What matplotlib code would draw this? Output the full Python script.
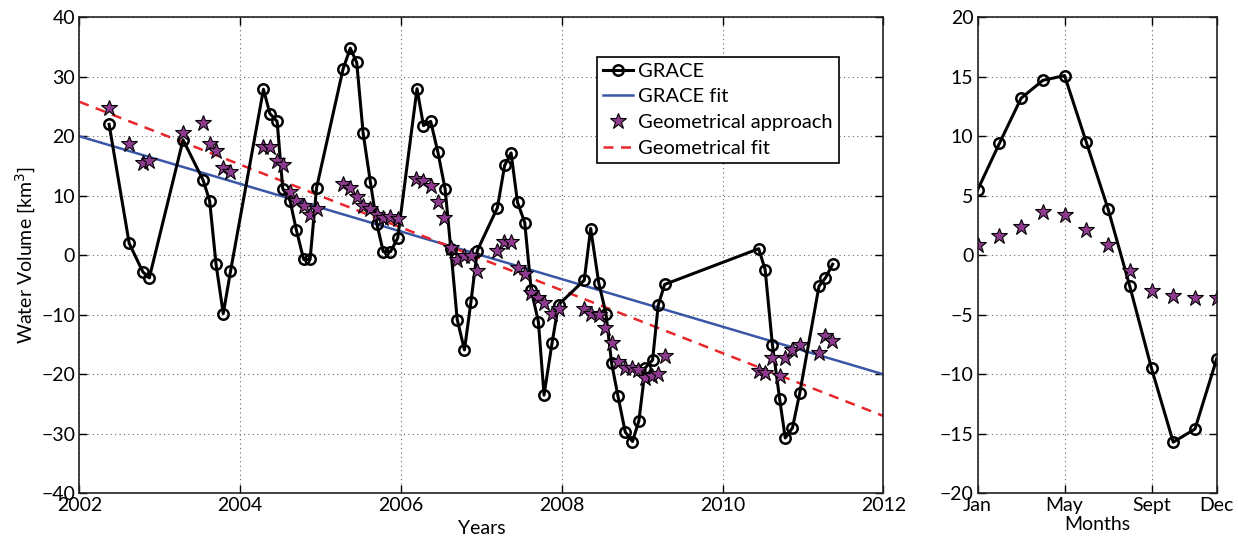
import matplotlib
matplotlib.use("Agg")
import matplotlib.pyplot as plt

plt.rcParams["font.family"] = ["Lato", "DejaVu Sans"]
plt.rcParams["font.size"] = 14
plt.rcParams["axes.unicode_minus"] = True

# --- monthly series ---
grace_t = [2002.37, 2002.62, 2002.79, 2002.87, 2003.29, 2003.54, 2003.62, 2003.70, 2003.79, 2003.88,
           2004.29, 2004.37, 2004.46, 2004.53, 2004.62, 2004.70, 2004.79, 2004.87, 2004.95,
           2005.28, 2005.37, 2005.45, 2005.53, 2005.62, 2005.70, 2005.78, 2005.87, 2005.96,
           2006.20, 2006.28, 2006.37, 2006.46, 2006.55, 2006.62, 2006.70, 2006.79, 2006.87, 2006.95,
           2007.20, 2007.29, 2007.37, 2007.45, 2007.54, 2007.62, 2007.71, 2007.78, 2007.88, 2007.96,
           2008.28, 2008.36, 2008.46, 2008.55, 2008.62, 2008.70, 2008.79, 2008.88, 2008.96,
           2009.04, 2009.13, 2009.20, 2009.28,
           2010.45, 2010.53, 2010.62, 2010.71, 2010.78, 2010.87, 2010.96,
           2011.20, 2011.28, 2011.37]
grace_v = [22.0, 2.0, -2.8, -3.8, 19.4, 12.6, 9.2, -1.5, -9.8, -2.7,
           27.9, 23.8, 22.5, 11.2, 9.2, 4.2, -0.7, -0.7, 11.3,
           31.3, 34.8, 32.4, 20.5, 12.3, 5.3, 0.6, 0.6, 2.9,
           28.0, 21.8, 22.5, 17.3, 11.1, 1.1, -10.8, -15.9, -7.9, 0.8,
           8.0, 15.1, 17.2, 8.9, 5.5, -5.8, -11.2, -23.5, -14.7, -8.3,
           -4.2, 4.5, -4.6, -9.8, -18.1, -23.7, -29.7, -31.3, -27.8,
           -18.9, -17.6, -8.4, -4.9,
           1.1, -2.4, -15.0, -24.1, -30.7, -29.0, -23.2,
           -5.2, -3.8, -1.5]

geom_t = [2002.37, 2002.62, 2002.79, 2002.87, 2003.29, 2003.54, 2003.62, 2003.70, 2003.79, 2003.88,
          2004.29, 2004.37, 2004.46, 2004.53, 2004.62, 2004.70, 2004.79, 2004.87, 2004.95,
          2005.28, 2005.37, 2005.45, 2005.53, 2005.62, 2005.70, 2005.78, 2005.87, 2005.96,
          2006.19, 2006.28, 2006.37, 2006.46, 2006.53, 2006.62, 2006.70, 2006.79, 2006.87, 2006.95,
          2007.20, 2007.28, 2007.37, 2007.45, 2007.54, 2007.62, 2007.70, 2007.78, 2007.88, 2007.96,
          2008.28, 2008.36, 2008.46, 2008.54, 2008.62, 2008.70, 2008.79, 2008.87, 2008.95,
          2009.03, 2009.12, 2009.20, 2009.28,
          2010.45, 2010.53, 2010.62, 2010.71, 2010.78, 2010.87, 2010.96,
          2011.20, 2011.28, 2011.36]
geom_v = [24.8, 18.7, 15.5, 15.8, 20.5, 22.3, 18.7, 17.5, 14.6, 14.0,
          18.2, 18.2, 15.8, 15.1, 10.6, 9.2, 8.3, 6.7, 7.7,
          11.9, 11.3, 9.8, 8.3, 7.7, 6.7, 6.3, 6.4, 6.1,
          12.9, 12.4, 11.6, 9.0, 6.3, 1.2, -0.8, -0.2, -0.2, -2.6,
          0.8, 2.2, 2.2, -2.1, -3.1, -6.3, -7.2, -8.0, -9.8, -9.1,
          -9.1, -9.9, -10.0, -12.2, -14.8, -17.9, -18.9, -18.9, -19.2,
          -20.7, -20.3, -19.9, -16.9,
          -19.4, -19.7, -17.3, -20.3, -17.2, -16.0, -15.0,
          -16.4, -13.6, -14.4]

# linear trends, evaluated at the ends of the period
fit_t = [2002, 2012]
grace_fit = [20.0, -20.0]
geom_fit = [25.8, -27.0]

# --- mean seasonal cycle ---
months = list(range(1, 13))
grace_season = [5.5, 9.4, 13.2, 14.7, 15.1, 9.5, 3.9, -2.6, -9.5, -15.7, -14.6, -8.7]
geom_season = [0.9, 1.6, 2.4, 3.6, 3.4, 2.1, 0.9, -1.3, -3.0, -3.4, -3.6, -3.6]
month_ticks = [1, 5, 9, 12]
month_labels = ["Jan", "May", "Sept", "Dec"]

star_color = "#8e3a8e"

fig = plt.figure(figsize=(12.38, 5.38), dpi=100)
ax = fig.add_axes([0.0641, 0.0831, 0.6494, 0.8848])
ax2 = fig.add_axes([0.7897, 0.0831, 0.1931, 0.8848])


def style(a):
    a.grid(True, linestyle=(0, (1, 3)), color="#666666", linewidth=0.8)
    a.tick_params(direction="in", length=6, width=1, top=True, right=True, pad=3)
    for s in a.spines.values():
        s.set_linewidth(1.2)
        s.set_color("#222222")


ax.plot(grace_t, grace_v, "-o", color="black", lw=2.2, ms=7.5, mfc="none", mew=1.8,
        label="GRACE", zorder=3)
ax.plot(fit_t, grace_fit, "-", color="#3a57a7", lw=1.8, label="GRACE fit", zorder=2)
ax.plot(geom_t, geom_v, "*", color=star_color, ms=12, mec="black", mew=0.8,
        label="Geometrical approach", zorder=4)
ax.plot(fit_t, geom_fit, "--", color="#e8262b", lw=1.8, dashes=(4, 3),
        label="Geometrical fit", zorder=2)
ax.set_xlim(2002, 2012)
ax.set_ylim(-40, 40)
ax.set_xticks([2002, 2004, 2006, 2008, 2010, 2012])
ax.set_yticks(range(-40, 41, 10))
ax.set_xlabel("Years", labelpad=4)
ax.set_ylabel("Water Volume [km$^3$]", labelpad=2)
style(ax)
leg = ax.legend(loc="upper left", bbox_to_anchor=(0.644, 0.917), borderaxespad=0,
                fancybox=False, edgecolor="black", framealpha=1, handlelength=1.5,
                handletextpad=0.25, borderpad=0.3, labelspacing=0.42, fontsize=14.5)
leg.get_frame().set_linewidth(1.2)

ax2.plot(months, grace_season, "-o", color="black", lw=2.2, ms=7.5, mfc="none", mew=1.8)
ax2.plot(months, geom_season, "*", color=star_color, ms=12, mec="black", mew=0.8)
ax2.set_xlim(1, 12)
ax2.set_ylim(-20, 20)
ax2.set_xticks(month_ticks)
ax2.set_xticklabels(month_labels)
ax2.set_yticks(range(-20, 21, 5))
ax2.set_xlabel("Months", labelpad=1)
style(ax2)

fig.savefig("out.png", dpi=100)
